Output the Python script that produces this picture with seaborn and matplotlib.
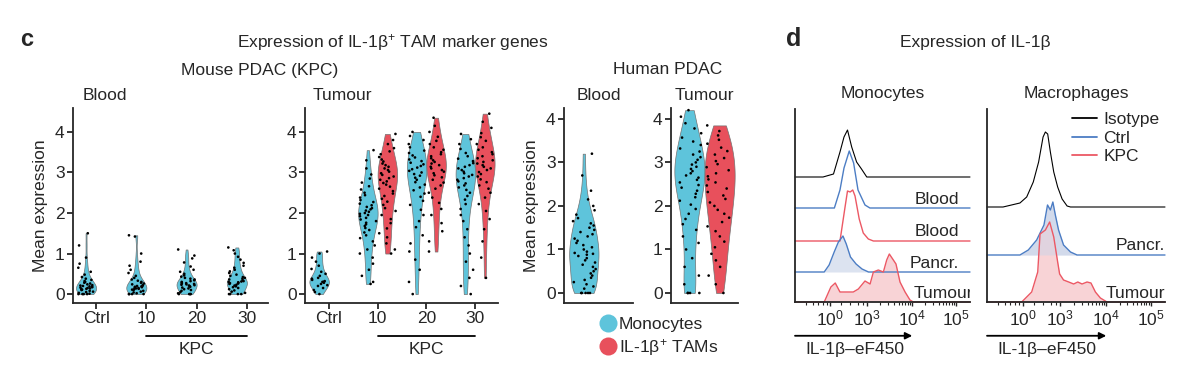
import numpy as np
import pandas as pd
import matplotlib
matplotlib.use("Agg")
import matplotlib.pyplot as plt
from matplotlib.lines import Line2D
import seaborn as sns

# ---------------- panel c: per-cell mean expression ----------------
MOUSE_GROUPS = ["Ctrl", "10", "20", "30"]

# mouse blood, monocytes only
mb_ctrl = [0.0, 0.0, 0.0, 0.0, 0.01, 0.03, 0.05, 0.06, 0.08, 0.1, 0.11, 0.12, 0.13, 0.14,
           0.15, 0.16, 0.17, 0.18, 0.19, 0.2, 0.21, 0.22, 0.24, 0.26, 0.28, 0.3, 0.32, 0.35,
           0.38, 0.42, 0.48, 0.55, 0.65, 0.75, 0.9, 1.2, 1.5]
mb_10 = [0.0, 0.0, 0.0, 0.0, 0.02, 0.04, 0.06, 0.08, 0.1, 0.11, 0.12, 0.13, 0.14, 0.15,
         0.16, 0.17, 0.18, 0.19, 0.2, 0.21, 0.22, 0.24, 0.26, 0.28, 0.3, 0.33, 0.36, 0.4,
         0.45, 0.52, 0.6, 0.7, 0.8, 1.0, 1.42, 1.45]
mb_20 = [0.0, 0.0, 0.0, 0.0, 0.02, 0.05, 0.08, 0.1, 0.12, 0.14, 0.16, 0.18, 0.2, 0.21,
         0.22, 0.23, 0.24, 0.25, 0.26, 0.27, 0.28, 0.3, 0.32, 0.34, 0.36, 0.38, 0.4, 0.43,
         0.46, 0.5, 0.55, 0.6, 0.68, 0.78, 0.88, 0.95, 1.1]
mb_30 = [0.0, 0.0, 0.0, 0.0, 0.03, 0.06, 0.09, 0.12, 0.15, 0.17, 0.19, 0.21, 0.23, 0.25,
         0.26, 0.27, 0.28, 0.29, 0.3, 0.31, 0.32, 0.34, 0.36, 0.38, 0.4, 0.42, 0.45, 0.48,
         0.52, 0.56, 0.6, 0.65, 0.7, 0.77, 0.85, 0.92, 1.0, 1.08, 1.15]

# mouse tumour
mt_ctrl_mono = [0.0, 0.05, 0.1, 0.15, 0.2, 0.22, 0.25, 0.28, 0.3, 0.3, 0.32, 0.35, 0.38,
                0.4, 0.45, 0.5, 0.55, 0.62, 0.7, 0.8, 0.9, 1.0, 1.05]
mt_10_mono = [0.25, 0.3, 0.45, 0.6, 0.75, 0.9, 1.0, 1.1, 1.2, 1.3, 1.38, 1.45, 1.52, 1.58,
              1.63, 1.68, 1.72, 1.76, 1.8, 1.84, 1.88, 1.92, 1.95, 1.98, 2.0, 2.03, 2.06,
              2.09, 2.12, 2.15, 2.19, 2.23, 2.27, 2.32, 2.38, 2.44, 2.5, 2.58, 2.66, 2.75,
              2.85, 2.95, 3.1, 3.3, 3.55]
mt_10_tam = [1.0, 1.1, 1.25, 1.4, 1.5, 1.62, 1.75, 1.85, 1.95, 2.05, 2.12, 2.2, 2.28, 2.35,
             2.42, 2.48, 2.54, 2.6, 2.65, 2.7, 2.74, 2.78, 2.82, 2.86, 2.9, 2.94, 2.98,
             3.02, 3.06, 3.1, 3.14, 3.18, 3.22, 3.27, 3.32, 3.38, 3.45, 3.52, 3.6, 3.7,
             3.8, 3.95]
mt_20_mono = [0.0, 0.3, 0.6, 0.85, 1.05, 1.25, 1.45, 1.65, 1.8, 1.95, 2.08, 2.2, 2.3, 2.4,
              2.48, 2.56, 2.63, 2.7, 2.76, 2.82, 2.87, 2.92, 2.96, 3.0, 3.04, 3.08, 3.12,
              3.16, 3.2, 3.24, 3.28, 3.32, 3.37, 3.42, 3.48, 3.54, 3.62, 3.7, 3.8, 3.9, 4.0]
mt_20_tam = [1.05, 1.3, 1.55, 1.75, 1.95, 2.1, 2.25, 2.38, 2.5, 2.6, 2.68, 2.75, 2.82,
             2.88, 2.93, 2.98, 3.02, 3.06, 3.1, 3.14, 3.18, 3.22, 3.26, 3.3, 3.35, 3.4,
             3.45, 3.5, 3.56, 3.62, 3.7, 3.78, 3.88, 4.0, 4.15, 4.35]
mt_30_mono = [0.0, 0.2, 0.4, 0.6, 0.8, 1.0, 1.2, 1.4, 1.6, 1.8, 1.95, 2.1, 2.22, 2.33,
              2.42, 2.5, 2.57, 2.63, 2.68, 2.73, 2.78, 2.82, 2.86, 2.9, 2.94, 2.98, 3.02,
              3.06, 3.1, 3.14, 3.18, 3.23, 3.28, 3.34, 3.4, 3.48, 3.58, 3.7, 3.82, 3.95]
mt_30_tam = [0.4, 0.9, 1.3, 1.6, 1.85, 2.05, 2.22, 2.38, 2.5, 2.6, 2.68, 2.76, 2.83, 2.9,
             2.96, 3.01, 3.06, 3.1, 3.14, 3.18, 3.22, 3.26, 3.3, 3.35, 3.4, 3.45, 3.5,
             3.56, 3.62, 3.7, 3.78, 3.87, 3.97, 4.1, 4.25, 4.45]

# human PDAC
hb_mono = [0.0, 0.0, 0.0, 0.0, 0.0, 0.1, 0.15, 0.2, 0.25, 0.3, 0.35, 0.4, 0.45, 0.5, 0.55,
           0.6, 0.65, 0.7, 0.75, 0.8, 0.85, 0.88, 0.9, 0.92, 0.95, 1.0, 1.05, 1.1, 1.15,
           1.2, 1.25, 1.3, 1.35, 1.4, 1.45, 1.5, 1.55, 1.6, 1.65, 1.72, 1.8, 1.9, 2.0,
           2.15, 2.35, 2.7, 3.2]
ht_mono = [0.0, 0.0, 0.0, 0.0, 0.2, 0.4, 0.6, 0.8, 1.0, 1.15, 1.3, 1.45, 1.58, 1.7, 1.82,
           1.93, 2.03, 2.12, 2.2, 2.28, 2.35, 2.42, 2.48, 2.54, 2.6, 2.65, 2.7, 2.75, 2.8,
           2.85, 2.9, 2.95, 3.0, 3.06, 3.12, 3.18, 3.25, 3.32, 3.4, 3.48, 3.57, 3.67,
           3.78, 3.9, 4.05, 4.2]
ht_tam = [0.0, 0.2, 0.4, 0.6, 0.75, 0.9, 1.05, 1.18, 1.3, 1.42, 1.53, 1.63, 1.73, 1.82,
          1.91, 2.0, 2.08, 2.16, 2.24, 2.32, 2.4, 2.47, 2.54, 2.61, 2.68, 2.75, 2.82, 2.89,
          2.96, 3.03, 3.1, 3.18, 3.26, 3.34, 3.43, 3.52, 3.62, 3.72, 3.85]

# ---------------- panel d: flow histograms (x = display position 0-100, h = height) ----------------
FLOW_TICKS = [20, 41, 67, 92]
FLOW_TICKLABELS = ["$10^{0}$", "$10^{3}$", "$10^{4}$", "$10^{5}$"]

mono_iso_x = [16, 22, 25.7, 28, 30, 32.4, 35.2, 38, 41]
mono_iso_h = [0, 3, 25, 40, 47, 30, 15, 8, 0]
mono_ctrl_blood_x = [22.5, 25.7, 28, 31, 33.5, 36, 40, 42.8]
mono_ctrl_blood_h = [0, 18, 40, 57, 45, 18, 3, 0]
mono_kpc_blood_x = [25.7, 28.6, 30, 31.5, 33, 34.3, 36.7, 39, 41.9, 44.8]
mono_kpc_blood_h = [0, 34, 50, 49, 51, 45, 22, 8, 2, 0]
mono_ctrl_pancr_x = [16.7, 19.5, 22.4, 24.8, 27.4, 29.3, 31.7, 34.9, 38.3, 42]
mono_ctrl_pancr_h = [0, 7, 20, 30, 36, 28, 15, 8, 3, 0]
mono_kpc_tum_x = [16.7, 20.5, 23, 25.7, 29.5, 33.3, 36.2, 40, 42.9, 44.8, 47.6, 50.5, 52.4,
                  53.9, 56.2, 57.7, 60, 62.9, 65.7, 67.6]
mono_kpc_tum_h = [0, 15, 19, 10, 10, 10, 13, 21, 18, 30, 32, 30, 42, 48, 42, 38, 20, 10, 2, 0]

mac_iso_x = [9, 18.5, 22.3, 26, 29, 31.5, 32.8, 34.1, 35.6, 37.5, 39.7, 42.2, 45, 46.9]
mac_iso_h = [0, 4, 10, 25, 45, 70, 75, 73, 55, 35, 20, 8, 1, 0]
mac_ctrl_pancr_x = [18.5, 23.2, 27.9, 32, 34, 35.6, 37, 38.4, 40.2, 43, 46.9, 50.6]
mac_ctrl_pancr_h = [0, 5, 15, 30, 50, 45, 53, 40, 25, 10, 3, 0]
mac_kpc_tum_x = [19.5, 25.1, 28.5, 29.8, 32.8, 35.2, 37.5, 39.7, 40.8, 43, 45.9, 48.7, 51,
                 53.4, 56.2, 58.4, 60.9, 63.7, 67.4]
mac_kpc_tum_h = [0, 10, 30, 68, 72, 80, 65, 40, 28, 22, 20, 18, 20, 18, 20, 19, 10, 4, 0]

# ---------------- style ----------------
HUE = ["Monocytes", "TAMs"]
PAL = {"Monocytes": "#5EC4DB", "TAMs": "#E8505C"}
DOTS = {"Monocytes": "black", "TAMs": "black"}
BLUE = "#4C7DC4"
RED = "#EC5864"

sns.set_theme(style="ticks")
plt.rcParams["font.family"] = ["Liberation Sans", "DejaVu Sans"]
plt.rcParams["mathtext.fontset"] = "custom"
plt.rcParams["mathtext.rm"] = "Liberation Sans"
plt.rcParams["mathtext.it"] = "Liberation Sans:italic"
plt.rcParams["axes.linewidth"] = 1.3
plt.rcParams["xtick.major.width"] = 1.3
plt.rcParams["ytick.major.width"] = 1.3
FS = 12.5

W, H = 1182, 375
fig = plt.figure(figsize=(W / 100, H / 100), dpi=100)


def px_axes(left, right, top, bottom):
    return fig.add_axes([left / W, 1 - bottom / H, (right - left) / W, (bottom - top) / H])


def frame(groups):
    rows = []
    for (grp, cell), vals in groups.items():
        for v in vals:
            rows.append({"group": grp, "cell": cell, "value": v})
    return pd.DataFrame(rows)


def violin_panel(ax, df, order, width):
    sns.violinplot(data=df, x="group", y="value", hue="cell", order=order, hue_order=HUE,
                   palette=PAL, cut=0, inner=None, density_norm="width", width=width,
                   linewidth=0.5, linecolor="0.45", saturation=1, dodge=True,
                   bw_adjust=0.8, legend=False, ax=ax)
    sns.stripplot(data=df, x="group", y="value", hue="cell", order=order, hue_order=HUE,
                  palette=DOTS, dodge=True, jitter=0.34, size=1.9, linewidth=0,
                  legend=False, ax=ax)
    ax.set_xlabel("")
    ax.set_ylabel("")
    sns.despine(ax=ax)
    ax.tick_params(labelsize=FS, length=4, pad=2)


def kpc_bracket(ax):
    tr = ax.get_xaxis_transform()
    ax.plot([1, 3], [-0.17, -0.17], color="black", lw=1.3, transform=tr, clip_on=False)
    ax.text(2, -0.2, "KPC", ha="center", va="top", fontsize=FS, transform=tr)


# mouse blood
df_mb = frame({("Ctrl", "Monocytes"): mb_ctrl, ("10", "Monocytes"): mb_10,
               ("20", "Monocytes"): mb_20, ("30", "Monocytes"): mb_30})
ax1 = px_axes(73, 268, 108, 303)
violin_panel(ax1, df_mb, MOUSE_GROUPS, 0.8)
ax1.set_xlim(-0.46, 3.42)
ax1.set_ylim(-0.22, 4.59)
ax1.set_yticks([0, 1, 2, 3, 4])
ax1.set_ylabel("Mean expression", fontsize=FS, labelpad=5)
ax1.set_title("Blood", fontsize=FS, loc="left", x=0.05, pad=6)
kpc_bracket(ax1)

# mouse tumour
df_mt = frame({("Ctrl", "Monocytes"): mt_ctrl_mono,
               ("10", "Monocytes"): mt_10_mono, ("10", "TAMs"): mt_10_tam,
               ("20", "Monocytes"): mt_20_mono, ("20", "TAMs"): mt_20_tam,
               ("30", "Monocytes"): mt_30_mono, ("30", "TAMs"): mt_30_tam})
ax2 = px_axes(305, 498, 108, 303)
violin_panel(ax2, df_mt, MOUSE_GROUPS, 0.8)
ax2.set_xlim(-0.49, 3.47)
ax2.set_ylim(-0.22, 4.59)
ax2.set_yticks([0, 1, 2, 3, 4])
ax2.set_title("Tumour", fontsize=FS, loc="left", x=0.04, pad=6)
kpc_bracket(ax2)

# human blood
df_hb = frame({("Blood", "Monocytes"): hb_mono})
ax3 = px_axes(564, 633, 108, 303)
violin_panel(ax3, df_hb, ["Blood"], 0.85)
ax3.set_xlim(-0.5, 0.5)
ax3.set_ylim(-0.23, 4.25)
ax3.set_yticks([0, 1, 2, 3, 4])
ax3.set_xticks([])
ax3.set_ylabel("Mean expression", fontsize=FS, labelpad=5)
ax3.set_title("Blood", fontsize=FS, pad=6)

# human tumour
df_ht = frame({("Tumour", "Monocytes"): ht_mono, ("Tumour", "TAMs"): ht_tam})
ax4 = px_axes(671, 738, 108, 303)
violin_panel(ax4, df_ht, ["Tumour"], 0.9)
ax4.set_xlim(-0.5, 0.5)
ax4.set_ylim(-0.23, 4.25)
ax4.set_yticks([0, 1, 2, 3, 4])
ax4.set_xticks([])
ax4.set_title("Tumour", fontsize=FS, pad=6)

# legend for violins
vh = [Line2D([], [], ls="", marker="o", markersize=13, markerfacecolor=PAL[k],
             markeredgecolor="none") for k in HUE]
fig.legend(vh, ["Monocytes", "IL-1β$^{+}$ TAMs"], loc="upper left",
           bbox_to_anchor=(590 / W, 1 - 308 / H), frameon=False, fontsize=FS,
           handletextpad=0.05, labelspacing=0.3, borderpad=0, handlelength=1.1)


# ---------------- panel d ----------------
def flow_curve(ax, xs, hs, base, color, lw=1.0, fill=None):
    x = np.r_[0, xs, 100]
    y = base + np.r_[0, hs, 0]
    if fill is not None:
        ax.fill_between(x, base, y, color=fill, lw=0, zorder=1)
    ax.plot(x, y, color=color, lw=lw, zorder=2, clip_on=False)


def flow_axes(ax, title):
    ax.set_xlim(0, 100)
    ax.set_ylim(0, 193)
    ax.set_yticks([])
    ax.set_xticks(FLOW_TICKS)
    ax.set_xticklabels(FLOW_TICKLABELS, fontsize=FS)
    minors = []
    for a, b in zip(FLOW_TICKS[1:-1], FLOW_TICKS[2:]):
        minors += [a + np.log10(k) * (b - a) for k in range(2, 10)]
    minors += [FLOW_TICKS[0] + (FLOW_TICKS[1] - FLOW_TICKS[0]) * f for f in (0.3, 0.55, 0.75, 0.9)]
    minors += [6, 10, 13, 16, 18]
    ax.set_xticks(minors, minor=True)
    ax.tick_params(axis="x", which="major", length=3, width=1, pad=2)
    ax.tick_params(axis="x", which="minor", length=2, width=0.8)
    sns.despine(ax=ax)
    ax.set_title(title, fontsize=FS, pad=8)
    ax.annotate("", xy=(FLOW_TICKS[2] / 100, -0.175), xytext=(0, -0.175),
                xycoords="axes fraction",
                arrowprops=dict(arrowstyle="-|>", color="black", lw=1.3,
                                shrinkA=0, shrinkB=0, mutation_scale=10))
    ax.text(0.06, -0.205, "IL-1β–eF450", transform=ax.transAxes, fontsize=FS,
            ha="left", va="top")


ax5 = px_axes(795, 970, 109, 302)
flow_curve(ax5, mono_iso_x, mono_iso_h, 125, "black", lw=0.8)
flow_curve(ax5, mono_ctrl_blood_x, mono_ctrl_blood_h, 94, BLUE)
flow_curve(ax5, mono_kpc_blood_x, mono_kpc_blood_h, 61, RED)
flow_curve(ax5, mono_ctrl_pancr_x, mono_ctrl_pancr_h, 30, BLUE, fill="#DCE3F0")
flow_curve(ax5, mono_kpc_tum_x, mono_kpc_tum_h, 0, RED, fill="#F8D3D6")
for base, lab in [(94, "Blood"), (61, "Blood"), (30, "Pancr.")]:
    ax5.text(94, base + 1.5, lab, fontsize=FS, ha="right", va="bottom", zorder=3)
ax5.text(68, 1.5, "Tumour", fontsize=FS, ha="left", va="bottom", zorder=3, clip_on=True)
flow_axes(ax5, "Monocytes")

ax6 = px_axes(987, 1165, 109, 302)
flow_curve(ax6, mac_iso_x, mac_iso_h, 95, "black", lw=0.8)
flow_curve(ax6, mac_ctrl_pancr_x, mac_ctrl_pancr_h, 47, BLUE, fill="#DCE3F0")
flow_curve(ax6, mac_kpc_tum_x, mac_kpc_tum_h, 0, RED, fill="#F8D3D6")
ax6.fill_between(np.r_[0, mac_ctrl_pancr_x, 100], 47,
                 47 + np.r_[0, mac_ctrl_pancr_h, 0], color="#C9D3E8", alpha=0.5, lw=0, zorder=1.5)
ax6.text(100, 48.5, "Pancr.", fontsize=FS, ha="right", va="bottom", zorder=3)
ax6.text(100, 1.5, "Tumour", fontsize=FS, ha="right", va="bottom", zorder=3)
flow_axes(ax6, "Macrophages")
lh = [Line2D([], [], color=c, lw=1.3) for c in ("black", BLUE, RED)]
ax6.legend(lh, ["Isotype", "Ctrl", "KPC"], loc="upper left", bbox_to_anchor=(0.43, 1.03),
           frameon=False, fontsize=FS, handlelength=1.4, handletextpad=0.4,
           labelspacing=0.2, borderpad=0)

# ---------------- headers ----------------
fig.text(20 / W, 1 - 40 / H, "c", fontsize=17, fontweight="bold", va="center")
fig.text(393 / W, 1 - 42 / H, "Expression of IL-1β$^{+}$ TAM marker genes", fontsize=FS,
         ha="center", va="center")
fig.text(260 / W, 1 - 70 / H, "Mouse PDAC (KPC)", fontsize=FS, ha="center", va="center")
fig.text(668 / W, 1 - 70 / H, "Human PDAC", fontsize=FS, ha="center", va="center")
fig.text(786 / W, 1 - 39 / H, "d", fontsize=18, fontweight="bold", va="center")
fig.text(975 / W, 1 - 42 / H, "Expression of IL-1β", fontsize=FS, ha="center", va="center")

fig.savefig("out.png", dpi=100)
